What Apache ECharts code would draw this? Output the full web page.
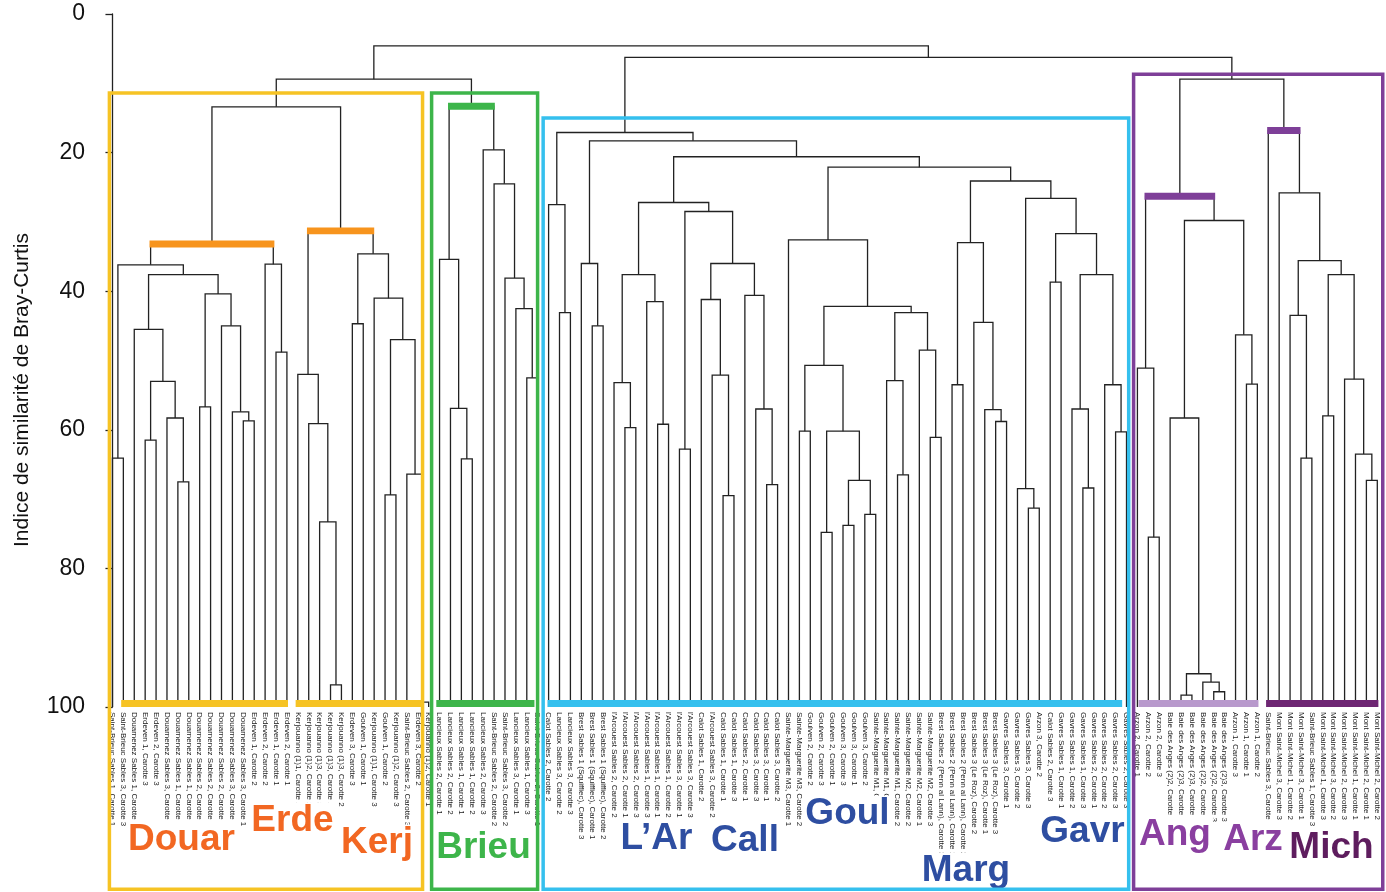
<!DOCTYPE html>
<html><head><meta charset="utf-8">
<script src="https://cdn.jsdelivr.net/npm/echarts@6/dist/echarts.min.js"></script>
<style>html,body{margin:0;padding:0;background:#fff}#c{width:1386px;height:892px}</style>
</head><body><div id="c"></div><script>
// ---------- DATA ----------
const leafLabels = [
 "Saint-Brieuc Sables 1, Carotte 1","Saint-Brieuc Sables 3, Carotte 3","Douarnenez Sables 1, Carotte 1","Erdeven 1, Carotte 3","Erdeven 2, Carotte 3",
 "Douarnenez Sables 3, Carotte 2","Douarnenez Sables 1, Carotte 2","Douarnenez Sables 1, Carotte 3","Douarnenez Sables 2, Carotte 1","Douarnenez Sables 2, Carotte 3",
 "Douarnenez Sables 2, Carotte 2","Douarnenez Sables 3, Carotte 3","Douarnenez Sables 3, Carotte 1","Erdeven 1, Carotte 2","Erdeven 2, Carotte 2",
 "Erdeven 1, Carotte 1","Erdeven 2, Carotte 1",
 "Kerjouanno (1)1, Carotte 1","Kerjouanno (1)2, Carotte 2","Kerjouanno (1)3, Carotte 3","Kerjouanno (1)3, Carotte 1","Kerjouanno (1)3, Carotte 2",
 "Erdeven 3, Carotte 3","Goulven 1, Carotte 1","Kerjouanno (1)1, Carotte 3","Goulven 1, Carotte 2","Kerjouanno (1)2, Carotte 3",
 "Saint-Brieuc Sables 2, Carotte 3","Erdeven 3, Carotte 2","Kerjouanno (1)2, Carotte 1",
 "Lancieux Sables 2, Carotte 1","Lancieux Sables 2, Carotte 2","Lancieux Sables 1, Carotte 1","Lancieux Sables 1, Carotte 2","Lancieux Sables 2, Carotte 3",
 "Saint-Brieuc Sables 2, Carotte 2","Saint-Brieuc Sables 3, Carotte 2","Lancieux Sables 3, Carotte 1","Lancieux Sables 1, Carotte 3","Saint-Brieuc Sables 2, Carotte 1",
 "Calot Sables 2, Carotte 2","Lancieux Sables 3, Carotte 2","Lancieux Sables 3, Carotte 3","Brest Sables 1 (Squiffiec), Carotte 3","Brest Sables 1 (Squiffiec), Carotte 1",
 "Brest Sables 1 (Squiffiec), Carotte 2","l'Arcouest Sables 2, Carotte 2","l'Arcouest Sables 2, Carotte 1","l'Arcouest Sables 2, Carotte 3","l'Arcouest Sables 1, Carotte 3",
 "l'Arcouest Sables 1, Carotte 1","l'Arcouest Sables 1, Carotte 2","l'Arcouest Sables 3, Carotte 1","l'Arcouest Sables 3, Carotte 3","Calot Sables 1, Carotte 2",
 "l'Arcouest Sables 3, Carotte 2","Calot Sables 1, Carotte 1","Calot Sables 1, Carotte 3","Calot Sables 2, Carotte 1","Calot Sables 3, Carotte 3",
 "Calot Sables 3, Carotte 1","Calot Sables 3, Carotte 2","Sainte-Marguerite M3, Carotte 1","Sainte-Marguerite M3, Carotte 2","Goulven 2, Carotte 2",
 "Goulven 2, Carotte 3","Goulven 2, Carotte 1","Goulven 3, Carotte 3","Goulven 3, Carotte 1","Goulven 3, Carotte 2",
 "Sainte-Marguerite M1, Carotte 3","Sainte-Marguerite M1, Carotte 1","Sainte-Marguerite M1, Carotte 2","Sainte-Marguerite M2, Carotte 2","Sainte-Marguerite M2, Carotte 1",
 "Sainte-Marguerite M2, Carotte 3","Brest Sables 2 (Penn al Lann), Carotte 3","Brest Sables 2 (Penn al Lann), Carotte 1","Brest Sables 2 (Penn al Lann), Carotte 2","Brest Sables 3 (Le Roz), Carotte 2",
 "Brest Sables 3 (Le Roz), Carotte 1","Brest Sables 3 (Le Roz), Carotte 3","Gavres Sables 3, Carotte 1","Gavres Sables 3, Carotte 2","Gavres Sables 3, Carotte 3",
 "Arzon 3, Carotte 2","Calot Sables 2, Carotte 3","Gavres Sables 1, Carotte 1","Gavres Sables 1, Carotte 2","Gavres Sables 1, Carotte 3",
 "Gavres Sables 2, Carotte 1","Gavres Sables 2, Carotte 2","Gavres Sables 2, Carotte 3","Gavres Sables 2, Carotte 3",
 "Arzon 2, Carotte 1","Arzon 2, Carotte 2","Arzon 2, Carotte 3","Baie des Anges (2)2, Carotte 2","Baie des Anges (2)3, Carotte 1",
 "Baie des Anges (2)3, Carotte 2","Baie des Anges (2)2, Carotte 1","Baie des Anges (2)2, Carotte 3","Baie des Anges (2)3, Carotte 3","Arzon 1, Carotte 3",
 "Arzon 1, Carotte 1","Arzon 1, Carotte 2",
 "Saint-Brieuc Sables 3, Carotte 1","Mont Saint-Michel 3, Carotte 3","Mont Saint-Michel 1, Carotte 2","Mont Saint-Michel 3, Carotte 1","Saint-Brieuc Sables 1, Carotte 3",
 "Mont Saint-Michel 1, Carotte 3","Mont Saint-Michel 3, Carotte 2","Mont Saint-Michel 2, Carotte 3","Mont Saint-Michel 1, Carotte 1","Mont Saint-Michel 2, Carotte 1",
 "Mont Saint-Michel 2, Carotte 2"
];

// Tree nodes: [left, right, mergeHeight]; a number is a leaf index
const douarTree = [[[0,1,64.1],[[2,[[3,4,61.5],[5,[6,7,67.5],58.3],53.0],45.5],[[8,9,56.7],[10,[11,[12,13,58.7],57.4],45.0],40.4],37.6],36.2],[14,[15,16,48.8],36.1],33.2];
const kerjTree = [[17,[18,[19,[20,21,96.8],73.3],59.1],52.0],[[22,23,44.7],[24,[[25,26,69.4],[27,[28,29,99.3],66.4],47.0],41.0],34.6],31.3];
const brieuTree = [[30,[31,[32,33,64.2],56.9],35.4],[34,[35,[36,[37,[38,39,52.5],42.5],38.1],24.5],19.6],13.3];
const cyanA0 = [40,[41,42,43.1],27.5];
const cyanA1 = [43,[44,45,45.0],36.0];
const cyanA2 = [[46,[47,48,59.7],53.2],[49,[50,51,59.2],41.5],37.6];
const cyanA3 = [[52,53,62.8],[[54,[55,[56,57,69.5],52.1],41.2],[58,[59,[60,61,67.9],57.0],40.6],36.0],28.5];
const cyanR1 = [62,[[[63,64,60.2],[[65,66,74.8],[[67,68,73.8],[69,70,72.2],67.3],60.2],50.7],[[71,[72,73,66.5],52.9],[74,[75,76,61.1],48.5],43.1],42.2],32.6];
const cyanR2 = [[77,78,53.5],[79,[80,[81,82,58.8],57.1],44.5],33.0];
const cyanR3 = [[83,[84,85,71.3],68.5],[[86,87,38.7],[[88,[89,90,68.4],57.0],[91,[92,93,60.3],53.5],37.6],31.7],26.6];
const cyanTree = [cyanA0,[cyanA1,[[cyanA2,cyanA3,27.2],[cyanR1,[cyanR2,cyanR3,24.1],22.1],20.6],18.3],17.1];
const angTree = [[94,[95,96,75.5],51.1],[[97,[[98,99,98.3],[100,[101,102,97.8],96.4],95.2],58.3],[103,[104,105,53.4],46.3],29.8],26.3];
const michTree = [106,[107,[[108,[109,110,64.1],43.5],[[111,112,58.0],[113,[114,[115,116,67.3],63.5],52.7],37.6],35.6],25.8],16.8];
const leftTree = [[douarTree,kerjTree,13.4],brieuTree,9.4];
const rightTree = [cyanTree,[angTree,michTree,9.4],6.25];
const rootTree = [leftTree,rightTree,4.6];

const yTicks = [0,20,40,60,80,100];
const yTitle = "Indice de similarit\u00e9 de Bray-Curtis";
const groupNames = ["Douar","Erde","Kerj","Brieu","L\u2019Ar","Call","Goul","Marg","Gavr","Ang","Arz","Mich"];
// leaf-index spans of the coloured bands under the leaves
const bandSpans = [[0.8,16.1],[16.8,28.4],[29.7,38.7],[39.9,92.6],[94.1,105.1],[105.8,116.1]];
// group boxes: [firstIndex, lastIndex, topValue]
const boxSpans = [[-0.28,28.44,11.4],[29.27,38.99,11.4],[39.5,93.2,15.0],[93.65,116.5,8.7]];

// ---------- STYLE / LAYOUT ----------
const bandColors = ["#F6C324","#F6C324","#3DB54A","#35C0EE","#B899CC","#6E2673"];
const boxColors = ["#F6C324","#3DB54A","#35C0EE","#7E3F98"];
const highlightNodes = [[douarTree,"#F7941D"],[kerjTree,"#F7941D"],[brieuTree,"#3DB54A"],[angTree,"#7E3F98"],[michTree,"#7E3F98"]];
const groupTextPos = [[181.5,840],[292.5,821],[377,843],[483.5,848],[656.5,839],[745,841],[847.5,814],[966,871],[1082.5,832],[1175,834.5],[1253,840],[1331.5,848]];
const groupTextColors = ["#F26722","#F26722","#F26722","#3DB54A","#2E4EA1","#2E4EA1","#2E4EA1","#2E4EA1","#2E4EA1","#8A3FA0","#8A3FA0","#5E1D5E"];

// ---------- BUILD SEGMENTS ----------
const segs = [];
const nodeInfo = new Map();
function layout(node){
  if (typeof node === 'number') return {x: node, h: 100};
  const L = layout(node[0]), R = layout(node[1]);
  segs.push([L.x, L.h, R.x, R.h, node[2]]);
  const info = {x: (L.x + R.x) / 2, h: node[2], xl: L.x, xr: R.x};
  nodeInfo.set(node, info);
  return info;
}
layout(rootTree);
const hiData = highlightNodes.map(([n, c]) => { const i = nodeInfo.get(n); return {value: [i.xl, i.xr, i.h], itemStyle: {color: c}}; });
const bandData = bandSpans.map((s, i) => ({value: [s[0], s[1]], itemStyle: {color: bandColors[i]}}));
const boxData = boxSpans.map((s, i) => ({value: [s[0], s[1], s[2], 126.3], itemStyle: {color: boxColors[i]}}));

const FONT = "'Liberation Sans', Arial, Helvetica, sans-serif";
const chart = echarts.init(document.getElementById('c'), null, {renderer: 'canvas'});
const graphics = groupNames.map((t, i) => ({type: 'text', x: groupTextPos[i][0], y: groupTextPos[i][1], z: 10,
    style: {text: t, fontSize: 37, fontWeight: 'bold', fontFamily: FONT, fill: groupTextColors[i], align: 'center', verticalAlign: 'middle',
            backgroundColor: '#fff', padding: [0, 2]}}));
graphics.push({type: 'text', x: 22, y: 390, rotation: Math.PI / 2, z: 10,
    style: {text: yTitle, fontSize: 21, fontFamily: FONT, fill: '#111', align: 'center', verticalAlign: 'middle'}});
chart.setOption({
  animation: false,
  backgroundColor: '#fff',
  grid: {left: 107, right: 3.25, top: 14, bottom: 185, containLabel: false},
  xAxis: [
    {type: 'category', data: leafLabels, boundaryGap: true, position: 'bottom',
     axisLine: {show: false}, axisTick: {show: false}, splitLine: {show: false},
     axisLabel: {interval: 0, rotate: -90, fontSize: 8, color: '#222', margin: 5, fontFamily: FONT}},
    {type: 'value', min: -0.5, max: 116.5, show: false}
  ],
  yAxis: {type: 'value', inverse: true, min: 0, max: 100, interval: 20,
    axisLine: {show: true, lineStyle: {color: '#222', width: 1.3}},
    axisTick: {show: true, length: 7, lineStyle: {color: '#222', width: 1.3}},
    axisLabel: {fontSize: 23, color: '#111', margin: 22, fontFamily: FONT,
      formatter: v => yTicks.indexOf(v) >= 0 ? String(v) : ''},
    splitLine: {show: false}},
  series: [
    {type: 'custom', name: 'dendrogram', xAxisIndex: 1, yAxisIndex: 0, data: segs, z: 2,
     renderItem: (p, api) => {
       const a = api.coord([api.value(0), api.value(1)]);
       const b = api.coord([api.value(0), api.value(4)]);
       const c = api.coord([api.value(2), api.value(4)]);
       const d = api.coord([api.value(2), api.value(3)]);
       return {type: 'polyline', shape: {points: [a, b, c, d]}, style: {stroke: '#222', lineWidth: 1.3, fill: null}};
     }},
    {type: 'custom', name: 'bands', xAxisIndex: 1, yAxisIndex: 0, data: bandData, z: 3,
     renderItem: (p, api) => {
       const a = api.coord([api.value(0), 99]);
       const b = api.coord([api.value(1), 100]);
       return {type: 'rect', shape: {x: a[0], y: a[1], width: b[0] - a[0], height: b[1] - a[1]}, style: {fill: api.visual('color')}};
     }},
    {type: 'custom', name: 'highlights', xAxisIndex: 1, yAxisIndex: 0, data: hiData, z: 3,
     renderItem: (p, api) => {
       const h = api.value(2);
       const a = api.coord([api.value(0) - 0.1, h - 0.5]);
       const b = api.coord([api.value(1) + 0.1, h + 0.5]);
       return {type: 'rect', shape: {x: a[0], y: a[1], width: b[0] - a[0], height: b[1] - a[1]}, style: {fill: api.visual('color')}};
     }},
    {type: 'custom', name: 'boxes', xAxisIndex: 1, yAxisIndex: 0, data: boxData, z: 20, clip: false,
     renderItem: (p, api) => {
       const a = api.coord([api.value(0), api.value(2)]);
       const b = api.coord([api.value(1), api.value(3)]);
       return {type: 'rect', shape: {x: a[0], y: a[1], width: b[0] - a[0], height: b[1] - a[1]}, style: {fill: null, stroke: api.visual('color'), lineWidth: 3.5}};
     }}
  ],
  graphic: graphics
});
</script></body></html>
